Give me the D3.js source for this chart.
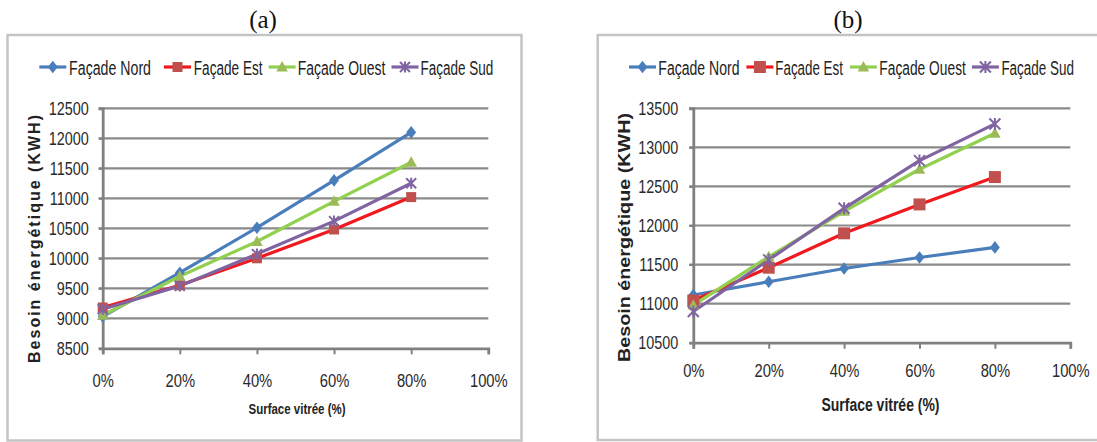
<!DOCTYPE html>
<html>
<head>
<meta charset="utf-8">
<script src="https://cdn.jsdelivr.net/npm/d3@7"></script>
<style>
  html, body { margin: 0; padding: 0; background: #fff; }
  svg { display: block; }
  text { font-family: "Liberation Sans Narrow", "Arial Narrow", "Liberation Sans", sans-serif; }
</style>
</head>
<body>
<svg id="chart" width="1097" height="442"></svg>
<script>
// Surface vitrée (%) on the x axis
const surfaces = [0, 20, 40, 60, 80];
const xTickValues = [0, 20, 40, 60, 80, 100];
const seriesNames = ["Façade Nord", "Façade Est", "Façade Ouest", "Façade Sud"];

// Panel (a): besoin énergétique (kWh)
const nordA  = [9030, 9760, 10510, 11300, 12100];
const estA   = [9180, 9550, 10000, 10480, 11020];
const ouestA = [9050, 9700, 10280, 10950, 11600];
const sudA   = [9150, 9540, 10070, 10620, 11250];
const yTicksA = [8500, 9000, 9500, 10000, 10500, 11000, 11500, 12000, 12500];

// Panel (b): besoin énergétique (kWh)
const nordB  = [11110, 11280, 11450, 11590, 11720];
const estB   = [11040, 11460, 11900, 12270, 12620];
const ouestB = [10980, 11600, 12180, 12720, 13180];
const sudB   = [10900, 11560, 12220, 12830, 13300];
const yTicksB = [10500, 11000, 11500, 12000, 12500, 13000, 13500];

const styles = [
  { line: "#4a7ebb", mark: "#4a7ebb", shape: "diamond" },
  { line: "#f0191e", mark: "#c0504d", shape: "square" },
  { line: "#92d050", mark: "#9bbb59", shape: "triangle" },
  { line: "#8064a2", mark: "#8064a2", shape: "star" }
];

const svg = d3.select("#chart");

function markerPath(shape, s) {
  const h = s / 2;
  switch (shape) {
    case "diamond":  return `M0,${-h * 1.15}L${h * 0.9},0L0,${h * 1.15}L${-h * 0.9},0Z`;
    case "square":   return `M${-h},${-h}H${h}V${h}H${-h}Z`;
    case "triangle": return `M0,${-h * 1.1}L${h * 1.05},${h * 0.8}L${-h * 1.05},${h * 0.8}Z`;
    default:         return `M${-h},${-h}L${h},${h}M${-h},${h}L${h},${-h}M0,${-h * 1.1}V${h * 1.1}`;
  }
}

function drawMarker(g, shape, color, x, y, s) {
  const p = g.append("path")
    .attr("d", markerPath(shape, s))
    .attr("transform", `translate(${x},${y})`);
  if (shape === "star") {
    p.attr("fill", "none").attr("stroke", color).attr("stroke-width", 2);
  } else {
    p.attr("fill", color);
  }
}

// narrow the tick labels to a condensed look
function condense(sel, factor) {
  sel.each(function () {
    const w = this.getComputedTextLength();
    d3.select(this).attr("textLength", w * factor).attr("lengthAdjust", "spacingAndGlyphs");
  });
}

function drawPanel(cfg) {
  const g = svg.append("g");

  // outer frame
  g.append("rect")
    .attr("x", cfg.box.x).attr("y", cfg.box.y)
    .attr("width", cfg.box.w).attr("height", cfg.box.h)
    .attr("fill", "#fff").attr("stroke", "#c4c4c4").attr("stroke-width", 2.5);

  // panel label
  g.append("text")
    .attr("x", cfg.label.x).attr("y", cfg.label.y)
    .attr("text-anchor", "middle")
    .style("font-family", "'Liberation Serif', 'Times New Roman', serif")
    .style("font-size", "25px").attr("fill", "#111")
    .text(cfg.label.text);

  const x = d3.scaleLinear().domain([0, 100]).range([cfg.plot.left, cfg.plot.right]);
  const y = d3.scaleLinear().domain([cfg.yTicks[0], cfg.yTicks[cfg.yTicks.length - 1]])
    .range([cfg.plot.bottom, cfg.plot.top]);

  // horizontal gridlines
  g.append("g").selectAll("line")
    .data(cfg.yTicks.slice(1))
    .join("line")
    .attr("x1", cfg.plot.left - 4).attr("x2", cfg.plot.right)
    .attr("y1", d => y(d)).attr("y2", d => y(d))
    .attr("stroke", "#8a8a8a").attr("stroke-width", 2.2);

  // y axis
  const yAxis = g.append("g")
    .attr("transform", `translate(${cfg.plot.left},0)`)
    .call(d3.axisLeft(y).tickValues(cfg.yTicks).tickSize(4).tickPadding(cfg.yPad).tickFormat(d3.format("d")));
  yAxis.select(".domain").attr("stroke", "#808080").attr("stroke-width", 2.8);
  yAxis.selectAll(".tick line").attr("stroke", "#808080").attr("stroke-width", 2);
  yAxis.selectAll(".tick text")
    .style("font-size", cfg.tickFont).attr("fill", "#2a2a2a")
    .call(condense, 0.8);

  // x axis
  const xAxis = g.append("g")
    .attr("transform", `translate(0,${cfg.plot.bottom})`)
    .call(d3.axisBottom(x).tickValues(xTickValues).tickSize(6).tickPadding(cfg.xPad).tickFormat(d => d + "%"));
  xAxis.select(".domain").attr("stroke", "#808080").attr("stroke-width", 2.8);
  xAxis.selectAll(".tick line").attr("stroke", "#808080").attr("stroke-width", 2);
  xAxis.selectAll(".tick text")
    .style("font-size", cfg.tickFont).attr("fill", "#2a2a2a")
    .call(condense, 0.82);

  // axis titles
  g.append("text")
    .attr("x", cfg.xTitle.x).attr("y", cfg.xTitle.y)
    .attr("text-anchor", "middle").attr("dominant-baseline", "middle")
    .style("font-size", cfg.xTitle.size).style("font-weight", "bold").attr("fill", "#222")
    .attr("textLength", cfg.xTitle.len).attr("lengthAdjust", "spacingAndGlyphs")
    .text("Surface vitrée (%)");

  g.append("text")
    .attr("transform", `translate(${cfg.yTitle.x},${cfg.yTitle.y}) rotate(-90)`)
    .attr("text-anchor", "middle").attr("dominant-baseline", "middle")
    .style("font-size", cfg.yTitle.size).style("font-weight", "bold").attr("fill", "#222")
    .style("font-family", "'Liberation Sans', Arial, sans-serif")
    .attr("textLength", cfg.yTitle.len).attr("lengthAdjust", cfg.yTitle.adjust)
    .text("Besoin énergétique (KWH)");

  // series lines and markers
  const line = d3.line().x((d, i) => x(surfaces[i])).y(d => y(d));
  cfg.series.forEach((vals, si) => {
    const st = styles[si];
    g.append("path")
      .datum(vals)
      .attr("d", line)
      .attr("fill", "none").attr("stroke", st.line)
      .attr("stroke-width", cfg.lineWidth).attr("stroke-linejoin", "round");
  });
  cfg.series.forEach((vals, si) => {
    const st = styles[si];
    const mg = g.append("g");
    vals.forEach((v, i) => drawMarker(mg, st.shape, st.mark, x(surfaces[i]), y(v), cfg.markSize[si]));
  });

  // legend
  const lg = g.append("g");
  seriesNames.forEach((name, i) => {
    const st = styles[i];
    const lx = cfg.legend.lines[i];
    lg.append("line")
      .attr("x1", lx).attr("x2", lx + 27)
      .attr("y1", cfg.legend.y).attr("y2", cfg.legend.y)
      .attr("stroke", st.line).attr("stroke-width", cfg.lineWidth);
    drawMarker(lg, st.shape, st.mark, lx + 13.5, cfg.legend.y, cfg.markSize[i]);
    const [t0, t1] = cfg.legend.texts[i];
    lg.append("text")
      .attr("x", t0).attr("y", cfg.legend.y + 1)
      .attr("dominant-baseline", "central")
      .style("font-size", "20px").attr("fill", "#222")
      .attr("textLength", t1 - t0).attr("lengthAdjust", "spacingAndGlyphs")
      .text(name);
  });
}

drawPanel({
  box: { x: 7.5, y: 35, w: 514, h: 405.5 },
  label: { x: 263, y: 28, text: "(a)" },
  plot: { left: 102.7, right: 488.3, top: 108.3, bottom: 348.3 },
  yTicks: yTicksA,
  yPad: 10, xPad: 20,
  tickFont: "18px",
  xTitle: { x: 297, y: 410, size: "15px", len: 97 },
  yTitle: { x: 36, y: 239, size: "16px", len: 248, adjust: "spacing" },
  series: [nordA, estA, ouestA, sudA],
  lineWidth: 3.2,
  markSize: [11, 10, 11, 10],
  legend: {
    y: 67,
    lines: [39.3, 164, 268.6, 391.5],
    texts: [[69.1, 151], [193.8, 262.6], [297.7, 385.5], [420.6, 493.3]]
  }
});

drawPanel({
  box: { x: 597.7, y: 35, w: 520, h: 405 },
  label: { x: 848, y: 28, text: "(b)" },
  plot: { left: 693.3, right: 1070.3, top: 108.3, bottom: 342.7 },
  yTicks: yTicksB,
  yPad: 11, xPad: 16,
  tickFont: "18px",
  xTitle: { x: 880.5, y: 406, size: "18px", len: 118 },
  yTitle: { x: 626, y: 237.5, size: "17px", len: 249, adjust: "spacingAndGlyphs" },
  series: [nordB, estB, ouestB, sudB],
  lineWidth: 3.2,
  markSize: [11, 12, 11, 11],
  legend: {
    y: 67,
    lines: [629, 746.4, 849.9, 971.9],
    texts: [[658.3, 739.5], [775.3, 842.9], [879.3, 965.9], [1001.4, 1074]]
  }
});
</script>
</body>
</html>
